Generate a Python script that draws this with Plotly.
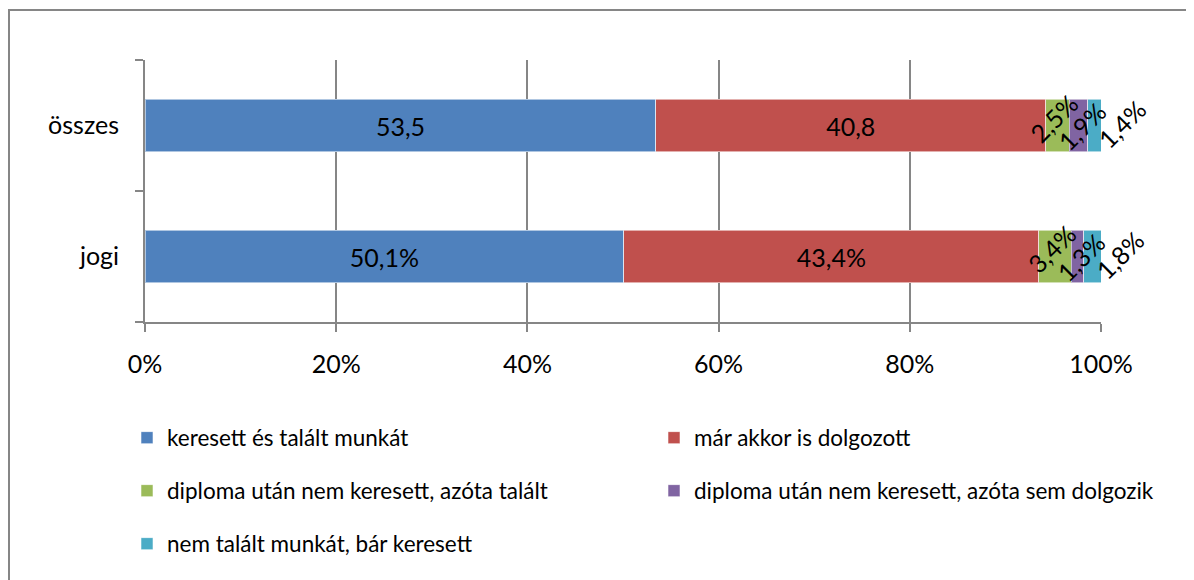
import plotly.graph_objects as go

# ---------------- data ----------------
categories = ["jogi", "összes"]
series_names = [
    "keresett és talált munkát",
    "már akkor is dolgozott",
    "diploma után nem keresett, azóta talált",
    "diploma után nem keresett, azóta sem dolgozik",
    "nem talált munkát, bár keresett",
]
s_kereset_talalt = [50.1, 53.5]
s_mar_dolgozott = [43.4, 40.8]
s_azota_talalt = [3.4, 2.5]
s_azota_sem = [1.3, 1.9]
s_nem_talalt = [1.8, 1.4]

lbl_kereset_talalt = ["50,1%", "53,5"]
lbl_mar_dolgozott = ["43,4%", "40,8"]
lbl_azota_talalt = ["3,4%", "2,5%"]
lbl_azota_sem = ["1,3%", "1,9%"]
lbl_nem_talalt = ["1,8%", "1,4%"]

x_tick_vals = [0, 20, 40, 60, 80, 100]
x_tick_text = ["0%", "20%", "40%", "60%", "80%", "100%"]

# ---------------- style ----------------
OFF = 8  # page body margin
W, H = 1194 - OFF, 580 - OFF
ML, MR, MT, MB = 145 - OFF, 93, 60 - OFF, 258
colors = ["#4F81BD", "#C0504D", "#9BBB59", "#8064A2", "#4BACC6"]
GRAY = "#868686"
FONT = "Lato"
AX_SIZE = 25
LEG_SIZE = 22.5

series_vals = [s_kereset_talalt, s_mar_dolgozott, s_azota_talalt, s_azota_sem, s_nem_talalt]
series_lbls = [lbl_kereset_talalt, lbl_mar_dolgozott, lbl_azota_talalt, lbl_azota_sem, lbl_nem_talalt]
rotated = [False, False, True, True, True]
label_xshift = [0, 0, -4, 3, 27]
label_yshift = [0, 0, 8, 0, 2]

legend_names = ["legend", "legend2", "legend3", "legend4", "legend5"]
legend_pos = [(127, 438), (654, 438), (127, 491), (654, 491), (127, 544)]  # page px

fig = go.Figure()
for i, (name, vals, lbls) in enumerate(zip(series_names, series_vals, series_lbls)):
    fig.add_trace(go.Bar(
        y=categories, x=vals, name=name, orientation="h",
        marker=dict(color=colors[i], line=dict(color="rgba(255,255,255,0.55)", width=1)),
        text=None if rotated[i] else lbls,
        textposition="inside", insidetextanchor="middle", textangle=0,
        textfont=dict(family=FONT, size=AX_SIZE, color="black"),
        legend=legend_names[i],
        hoverinfo="name+x",
    ))

annotations = []
for ci, cat in enumerate(categories):
    total = sum(v[ci] for v in series_vals)
    cum = 0.0
    for si, vals in enumerate(series_vals):
        start = cum
        cum += vals[ci]
        if rotated[si]:
            mid = (start + cum) / 2 / total * 100
            annotations.append(dict(
                x=mid, y=cat, xref="x", yref="y", text=series_lbls[si][ci],
                showarrow=False, textangle=-45,
                xshift=label_xshift[si], yshift=label_yshift[si],
                font=dict(family=FONT, size=AX_SIZE, color="black"),
            ))

layout_legends = {}
for ln, (px, py) in zip(legend_names, legend_pos):
    layout_legends[ln] = dict(
        x=(px - OFF) / W, y=1 - (py - OFF) / H, xref="container", yref="container",
        xanchor="left", yanchor="middle", orientation="h",
        bgcolor="rgba(0,0,0,0)", borderwidth=0,
        font=dict(family=FONT, size=LEG_SIZE, color="black"),
    )

pw = W - ML - MR
ph = H - MT - MB
fx = (0 - ML) / pw
fy_top = (H - MB - 2) / ph
shapes = [
    dict(type="line", xref="paper", yref="paper",
         x0=fx + 1 / pw, x1=fx + 1 / pw, y0=fy_top, y1=(-MB) / ph,
         line=dict(color=GRAY, width=2)),
    dict(type="line", xref="paper", yref="paper",
         x0=fx, x1=(W - ML) / pw, y0=fy_top, y1=fy_top,
         line=dict(color=GRAY, width=2)),
]

fig.update_layout(
    width=W, height=H,
    margin=dict(l=ML, r=MR, t=MT, b=MB),
    barmode="stack", barnorm="percent", bargap=0.6,
    plot_bgcolor="white", paper_bgcolor="white",
    font=dict(family=FONT, size=AX_SIZE, color="black"),
    annotations=annotations, shapes=shapes,
    showlegend=True,
    **layout_legends,
)
fig.update_xaxes(
    range=[0, 100], tickvals=x_tick_vals, ticktext=x_tick_text,
    showgrid=True, gridcolor=GRAY, gridwidth=2,
    showline=True, linecolor=GRAY, linewidth=2,
    ticks="outside", ticklen=8, tickcolor=GRAY, tickwidth=2,
    ticklabelstandoff=11, zeroline=False,
    tickfont=dict(family=FONT, size=AX_SIZE, color="black"),
    fixedrange=True,
)
fig.update_yaxes(
    range=[-0.5, 1.5], type="category",
    showgrid=False, showline=True, linecolor=GRAY, linewidth=2,
    ticks="outside", tickson="boundaries", ticklen=8, tickcolor=GRAY, tickwidth=2,
    ticklabelstandoff=19,
    tickfont=dict(family=FONT, size=AX_SIZE, color="black"),
    fixedrange=True,
)

fig.write_html("out.html")
